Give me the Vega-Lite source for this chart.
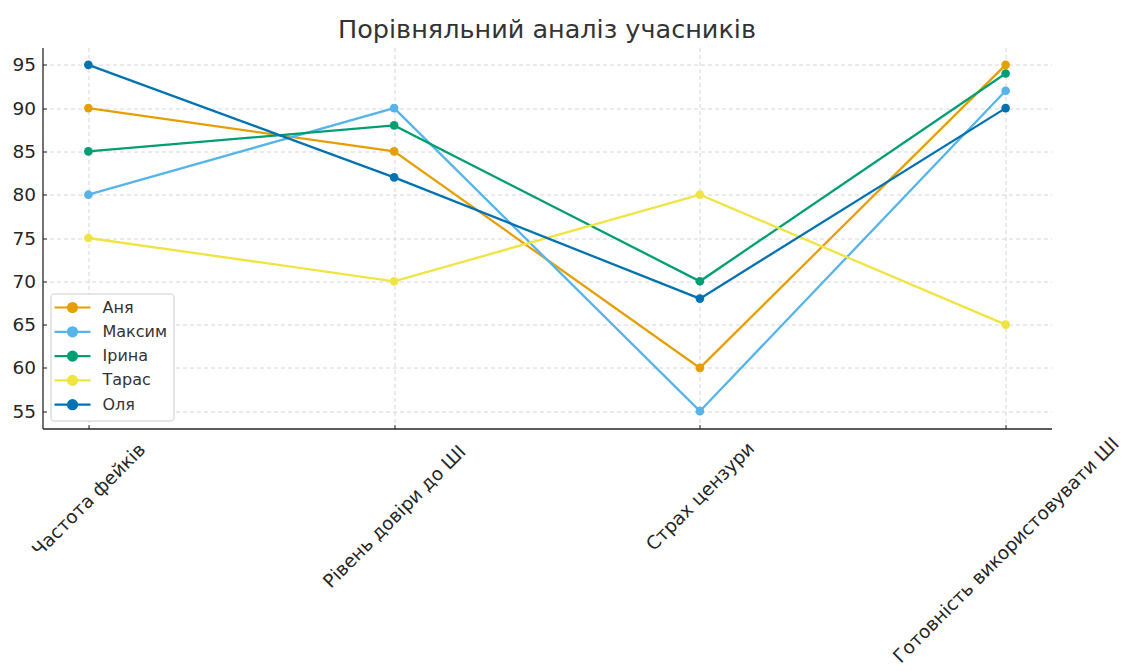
{
  "$schema": "https://vega.github.io/schema/vega-lite/v6.json",
  "width": 1009,
  "height": 381,
  "autosize": {"type": "none"},
  "padding": {"left": 42.5, "top": 47.5, "right": 69.5, "bottom": 242.5},
  "background": "white",
  "title": {
    "text": "Порівняльний аналіз учасників",
    "font": "DejaVu Sans",
    "fontSize": 25.5,
    "fontWeight": "normal",
    "color": "#333333",
    "anchor": "middle",
    "offset": 4
  },
  "config": {
    "view": {"stroke": null},
    "font": "DejaVu Sans",
    "axis": {
      "grid": true,
      "gridColor": "#cccccc",
      "gridDash": [4, 3],
      "gridWidth": 0.8,
      "domainColor": "#262626",
      "domainWidth": 1.3,
      "tickColor": "#262626",
      "tickWidth": 1,
      "tickSize": -4,
      "labelFont": "DejaVu Sans",
      "labelFontSize": 18.5,
      "labelColor": "#262626",
      "title": null
    }
  },
  "data": {
    "values": [
      {"name": "Аня", "criterion": "Частота фейків", "score": 90},
      {"name": "Аня", "criterion": "Рівень довіри до ШІ", "score": 85},
      {"name": "Аня", "criterion": "Страх цензури", "score": 60},
      {"name": "Аня", "criterion": "Готовність використовувати ШІ", "score": 95},
      {"name": "Максим", "criterion": "Частота фейків", "score": 80},
      {"name": "Максим", "criterion": "Рівень довіри до ШІ", "score": 90},
      {"name": "Максим", "criterion": "Страх цензури", "score": 55},
      {"name": "Максим", "criterion": "Готовність використовувати ШІ", "score": 92},
      {"name": "Ірина", "criterion": "Частота фейків", "score": 85},
      {"name": "Ірина", "criterion": "Рівень довіри до ШІ", "score": 88},
      {"name": "Ірина", "criterion": "Страх цензури", "score": 70},
      {"name": "Ірина", "criterion": "Готовність використовувати ШІ", "score": 94},
      {"name": "Тарас", "criterion": "Частота фейків", "score": 75},
      {"name": "Тарас", "criterion": "Рівень довіри до ШІ", "score": 70},
      {"name": "Тарас", "criterion": "Страх цензури", "score": 80},
      {"name": "Тарас", "criterion": "Готовність використовувати ШІ", "score": 65},
      {"name": "Оля", "criterion": "Частота фейків", "score": 95},
      {"name": "Оля", "criterion": "Рівень довіри до ШІ", "score": 82},
      {"name": "Оля", "criterion": "Страх цензури", "score": 68},
      {"name": "Оля", "criterion": "Готовність використовувати ШІ", "score": 90}
    ]
  },
  "encoding": {
    "x": {
      "field": "criterion",
      "type": "nominal",
      "sort": ["Частота фейків", "Рівень довіри до ШІ", "Страх цензури", "Готовність використовувати ШІ"],
      "scale": {"type": "point", "padding": 0.15},
      "axis": {
        "labelAngle": -45,
        "labelAlign": "center",
        "labelBaseline": "middle",
        "labelPadding": {"expr": "28 + 3.35*length(datum.value)"},
        "labelLimit": 0,
        "labelOverlap": false
      }
    },
    "y": {
      "field": "score",
      "type": "quantitative",
      "scale": {"domain": [53, 97], "nice": false, "zero": false},
      "axis": {"values": [55, 60, 65, 70, 75, 80, 85, 90, 95], "labelPadding": 11}
    },
    "color": {
      "field": "name",
      "type": "nominal",
      "sort": ["Аня", "Максим", "Ірина", "Тарас", "Оля"],
      "scale": {
        "domain": ["Аня", "Максим", "Ірина", "Тарас", "Оля"],
        "range": ["#E69F00", "#56B4E9", "#009E73", "#F0E442", "#0072B2"]
      },
      "legend": {
        "title": null,
        "orient": "bottom-left",
        "offset": 8,
        "padding": 6,
        "fillColor": "white",
        "strokeColor": "#cccccc",
        "cornerRadius": 3,
        "labelFont": "DejaVu Sans",
        "labelFontSize": 16,
        "labelColor": "#333333",
        "rowPadding": 6.3,
        "symbolSize": 100,
        "symbolType": "M-3.6,0L3.6,0M-0.9,0A0.9,0.9,0,1,0,0.9,0A0.9,0.9,0,1,0,-0.9,0Z",
        "symbolOffset": 8,
        "labelOffset": 22,
        "symbolStrokeWidth": 2,
        "encode": {
          "symbols": {
            "update": {
              "fill": {"scale": "color", "field": "value"},
              "stroke": {"scale": "color", "field": "value"},
              "opacity": {"value": 1},
              "strokeWidth": {"value": 2.2}
            }
          }
        }
      }
    }
  },
  "layer": [
    {"mark": {"type": "line", "strokeWidth": 2.3}},
    {"mark": {"type": "point", "filled": true, "size": 75, "opacity": 1}}
  ]
}
